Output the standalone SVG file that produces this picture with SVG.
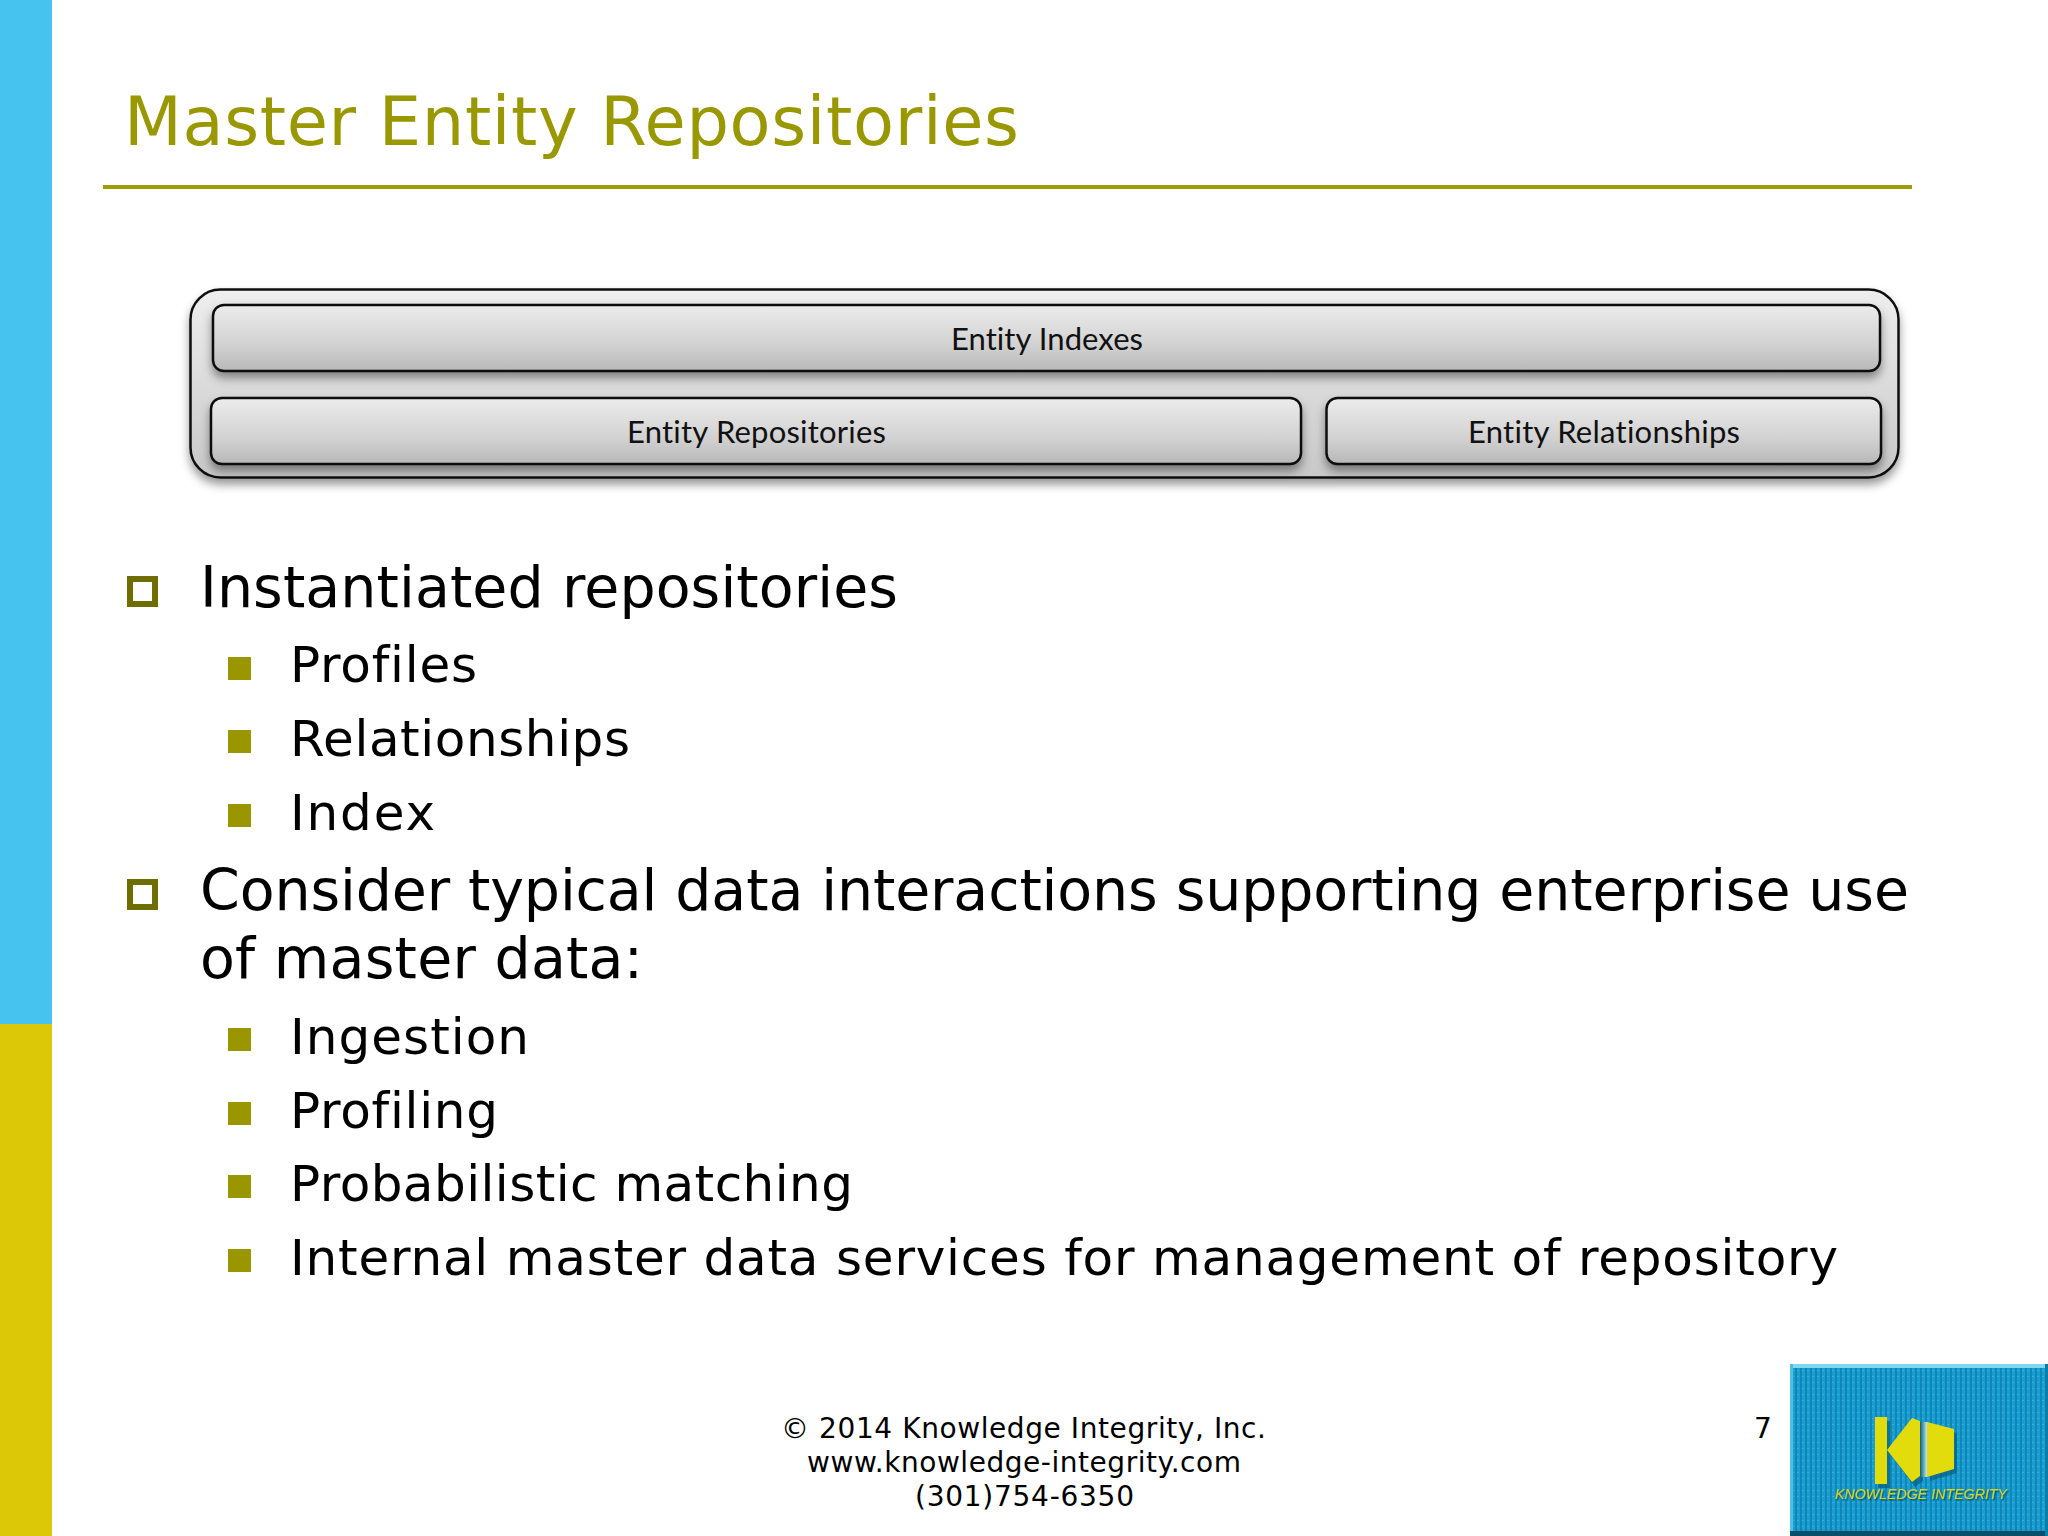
<svg xmlns="http://www.w3.org/2000/svg" width="2048" height="1536" viewBox="0 0 2048 1536">
<style>
.v{font-family:"DejaVu Sans","Liberation Sans",sans-serif;fill:#000;font-variant-ligatures:none}
.b1{font-size:57px}
.b2{font-size:50px}
.f{font-size:28px}
.l{font-family:Lato,"Liberation Sans",sans-serif;font-size:31px;fill:#111;font-variant-ligatures:none}
.box{fill:url(#g);stroke:#111;stroke-width:2.5;filter:url(#s)}
.o{fill:none;stroke:#6e6e00;stroke-width:6}
.s{fill:#9a9600}
</style>
<defs>
<linearGradient id="g" x1="0" y1="0" x2="0" y2="1"><stop offset="0" stop-color="#ececec"/><stop offset=".6" stop-color="#d2d2d2"/><stop offset="1" stop-color="#b8b8b8"/></linearGradient>
<linearGradient id="g0" x1="0" y1="0" x2="0" y2="1"><stop offset="0" stop-color="#eeeeee"/><stop offset="1" stop-color="#c8c8c8"/></linearGradient>
<filter id="s" x="-5%" y="-20%" width="110%" height="160%"><feDropShadow dx="0" dy="6" stdDeviation="5" flood-color="#000" flood-opacity=".4"/></filter>
<pattern id="tex" width="5" height="6" patternUnits="userSpaceOnUse"><rect width="5" height="6" fill="#1a9dcf"/><rect width="2" height="6" fill="#0e87b8"/><rect x="2" y="2" width="2" height="1" fill="#2fb0de"/></pattern>
<filter id="ts" x="-5%" y="-30%" width="110%" height="170%"><feDropShadow dx="1.500" dy="1.500" stdDeviation="0.600" flood-color="#064a60" flood-opacity=".8"/></filter>
<linearGradient id="gap" x1="0" y1="0" x2="1" y2="0"><stop offset="0" stop-color="#0a5f78"/><stop offset="1" stop-color="#bfeaf5"/></linearGradient>
</defs>
<rect width="2048" height="1536" fill="#fff"/>
<rect id="bar-blue" width="52" height="1024" fill="#47c3f0"/>
<rect id="bar-yellow" y="1024" width="52" height="512" fill="#ddc808"/>
<g id="title">
<text x="124" y="145" class="v" font-size="67" style="fill:#9a9800" textLength="895" lengthAdjust="spacing">Master Entity Repositories</text>
<rect x="103" y="185" width="1809" height="4" fill="#9e9c00"/>
</g>
<g id="diagram">
<g id="entity-container"><rect x="190.500" y="289.500" width="1708" height="188" rx="30" fill="url(#g0)" stroke="#111" stroke-width="2.500" filter="url(#s)"/></g>
<g id="entity-indexes"><rect class="box" x="213" y="305" width="1667" height="66" rx="11"/><text class="l" x="951" y="350" textLength="192" lengthAdjust="spacing">Entity Indexes</text></g>
<g id="entity-repositories"><rect class="box" x="211" y="398" width="1090" height="66" rx="11"/><text class="l" x="627" y="443" textLength="259" lengthAdjust="spacing">Entity Repositories</text></g>
<g id="entity-relationships"><rect class="box" x="1326.500" y="398" width="554.500" height="66" rx="11"/><text class="l" x="1468" y="443" textLength="272" lengthAdjust="spacing">Entity Relationships</text></g>
</g>
<g id="bullets">
<rect class="o" x="130" y="579" width="25" height="25"/>
<text class="v b1" x="200" y="607" textLength="698" lengthAdjust="spacing">Instantiated repositories</text>
<rect class="s" x="228" y="657" width="23" height="23"/>
<text class="v b2" x="290" y="682" textLength="187" lengthAdjust="spacing">Profiles</text>
<rect class="s" x="228" y="730" width="23" height="23"/>
<text class="v b2" x="290" y="756" textLength="340" lengthAdjust="spacing">Relationships</text>
<rect class="s" x="228" y="804" width="23" height="23"/>
<text class="v b2" x="290" y="830" textLength="145" lengthAdjust="spacing">Index</text>
<rect class="o" x="130" y="882" width="25" height="25"/>
<text class="v b1" x="200" y="910" textLength="1709" lengthAdjust="spacing">Consider typical data interactions supporting enterprise use</text>
<text class="v b1" x="200" y="978" textLength="443" lengthAdjust="spacing">of master data:</text>
<rect class="s" x="228" y="1028" width="23" height="23"/>
<text class="v b2" x="290" y="1054" textLength="239" lengthAdjust="spacing">Ingestion</text>
<rect class="s" x="228" y="1102" width="23" height="23"/>
<text class="v b2" x="290" y="1128" textLength="208" lengthAdjust="spacing">Profiling</text>
<rect class="s" x="228" y="1175" width="23" height="23"/>
<text class="v b2" x="290" y="1201" textLength="563" lengthAdjust="spacing">Probabilistic matching</text>
<rect class="s" x="228" y="1249" width="23" height="23"/>
<text class="v b2" x="290" y="1275" textLength="1548" lengthAdjust="spacing">Internal master data services for management of repository</text>
</g>
<g id="footer">
<text class="v f" x="781" y="1438" textLength="485" lengthAdjust="spacing">© 2014 Knowledge Integrity, Inc.</text>
<text class="v f" x="807" y="1472" textLength="434" lengthAdjust="spacing">www.knowledge-integrity.com</text>
<text class="v f" x="915" y="1506" textLength="219" lengthAdjust="spacing">(301)754-6350</text>
<text class="v f" x="1754" y="1438">7</text>
</g>
<g id="logo">
<rect x="1790" y="1364" width="258" height="172" fill="url(#tex)"/>
<rect x="1790" y="1364" width="258" height="4" fill="#7fd8ee"/>
<rect x="1790" y="1364" width="3" height="172" fill="#4dbfe0"/>
<rect x="1790" y="1531" width="258" height="5" fill="#08506a"/>
<rect x="2045" y="1364" width="3" height="172" fill="#0a7ea6"/>
<g transform="translate(3 4)" fill="#08607f" opacity=".7"><path d="M1875 1417h12v67h-12zM1887 1450l25-32 8 3v56l-8 6zM1927 1422l27 7v40l-27 8z"/></g>
<path d="M1875 1417h12v67h-12zM1887 1450l25-32 8 3v55l-8 6zM1927 1422l27 7v40l-27 8z" fill="#e3dc0c"/>
<rect x="1920" y="1422" width="7" height="55" fill="url(#gap)"/>
<text x="1835" y="1499" font-family="Liberation Sans,sans-serif" font-style="italic" font-size="15" fill="#dcd610" filter="url(#ts)" textLength="172" lengthAdjust="spacingAndGlyphs">KNOWLEDGE INTEGRITY</text>
</g>
</svg>
